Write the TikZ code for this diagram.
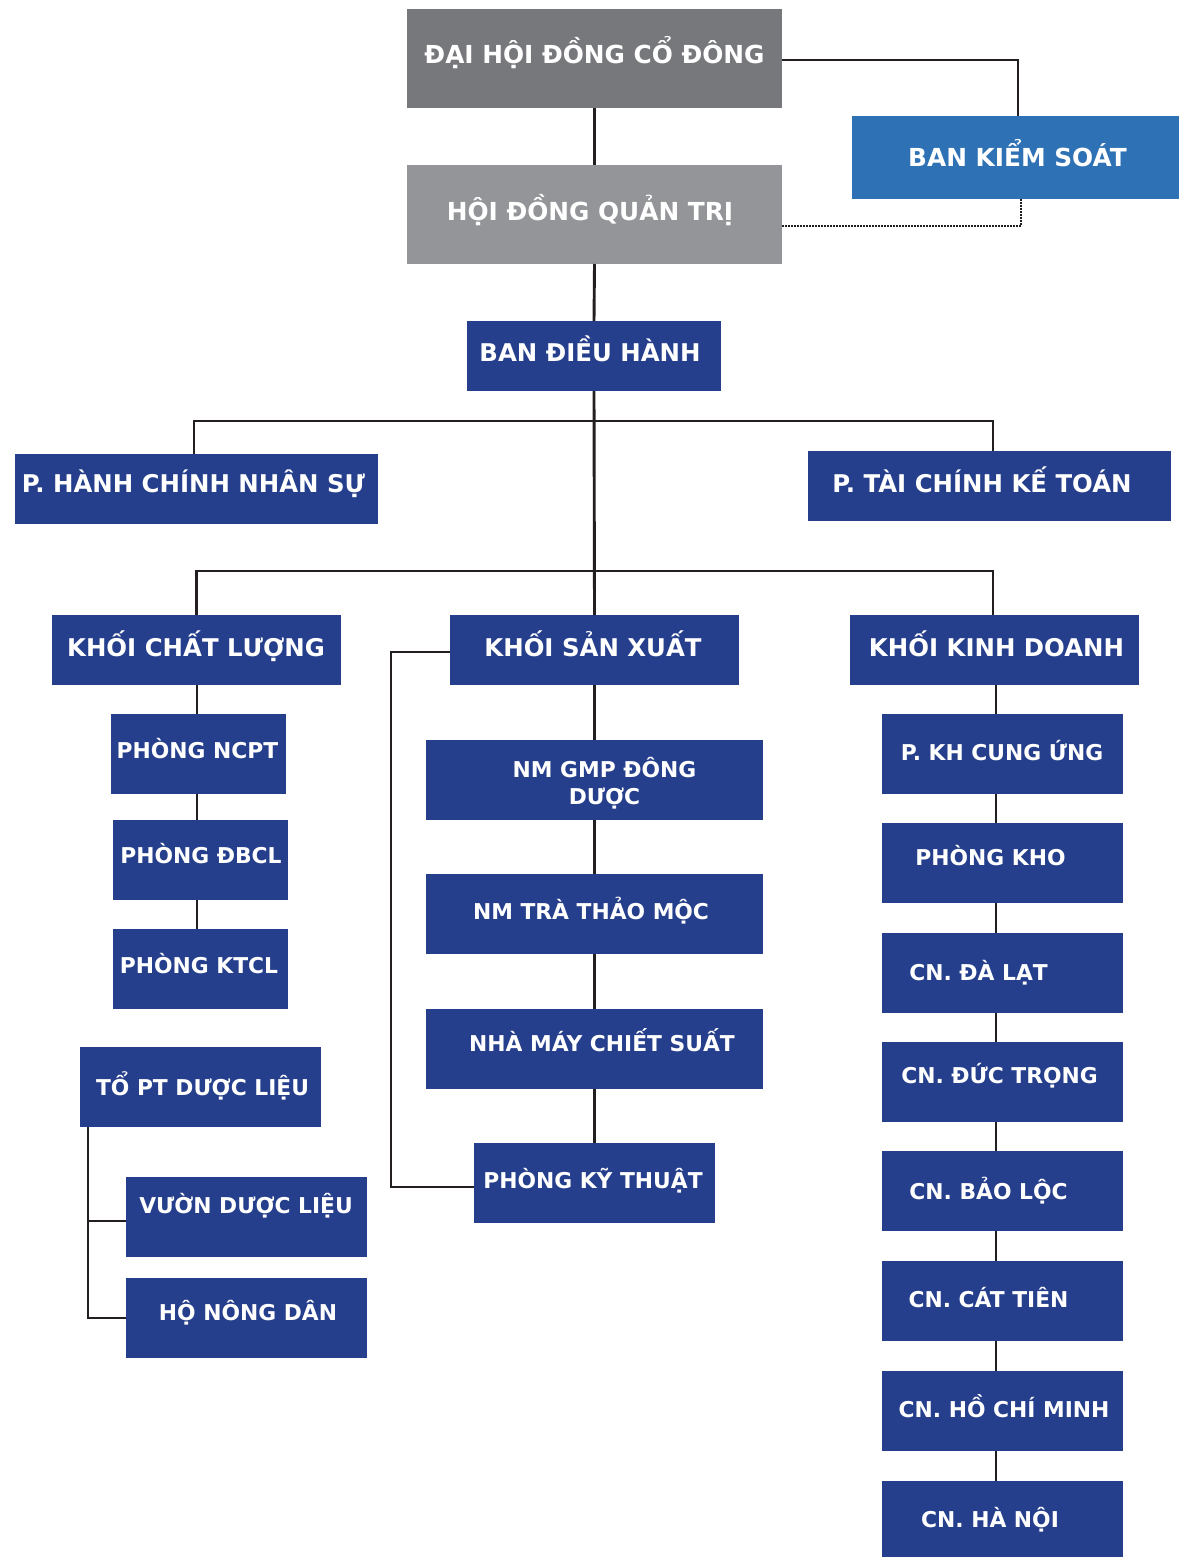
\documentclass[tikz,border=0pt]{standalone}
\usepackage{fontspec}
\setmainfont{DejaVu Sans}
\definecolor{gdark}{HTML}{77787C}
\definecolor{glight}{HTML}{939598}
\definecolor{bksblue}{HTML}{2E72B5}
\definecolor{navy}{HTML}{263F8C}
\definecolor{wirecol}{HTML}{231F20}
\newcommand\topsz{\fontsize{24.8}{29}\selectfont}
\newcommand\mainsz{\fontsize{24.4}{28}\selectfont}
\newcommand\subsz{\fontsize{21.8}{27}\selectfont}
\tikzset{
  unit/.style={rectangle, inner sep=0pt, outer sep=0pt, draw=none},
  lbl/.style={inner sep=0pt, text=white, font=\bfseries},
  wire/.style={draw=wirecol, line width=2.9pt},
  dotwire/.style={draw=wirecol, line width=2pt, dash pattern=on 1.6pt off 1.4pt},
}
% name x1 y1 x2 y2 fill tx ty text
\newcommand\orgunit[9]{%
  \node[unit, fill=#6, minimum width={(#4-#2)*1pt}, minimum height={(#5-#3)*1pt}] (#1) at ({(#2+#4)/2},{(#3+#5)/2}) {};
  \node[lbl, anchor=base] (#1-t) at (#7,#8) {#9};
}
\begin{document}
\begin{tikzpicture}[x=1pt,y=-1pt]
\useasboundingbox[fill=white] (0,0) rectangle (1179,1557);
% top
\orgunit{dhdcd}{407}{9}{782}{108}{gdark}{594.5}{64}{\topsz ĐẠI HỘI ĐỒNG CỔ ĐÔNG}
\orgunit{bks}{852}{116}{1179}{199}{bksblue}{1017.5}{167}{\topsz BAN KIỂM SOÁT}
\orgunit{hdqt}{407}{165}{782}{264}{glight}{590}{220}{\topsz HỘI ĐỒNG QUẢN TRỊ}
\orgunit{bdh}{467}{321}{721}{391}{navy}{590}{361}{\mainsz BAN ĐIỀU HÀNH}
\orgunit{phcns}{15}{454}{378}{524}{navy}{193.5}{492}{\mainsz P. HÀNH CHÍNH NHÂN SỰ}
\orgunit{ptckt}{808}{451}{1171}{521}{navy}{982}{492}{\mainsz P. TÀI CHÍNH KẾ TOÁN}
\orgunit{kcl}{52}{615}{341}{685}{navy}{196}{656}{\mainsz KHỐI CHẤT LƯỢNG}
\orgunit{ksx}{450}{615}{739}{685}{navy}{593}{656}{\mainsz KHỐI SẢN XUẤT}
\orgunit{kkd}{850}{615}{1139}{685}{navy}{996.5}{656}{\mainsz KHỐI KINH DOANH}
% left column
\orgunit{ncpt}{111}{714}{286}{794}{navy}{197.5}{758}{\subsz PHÒNG NCPT}
\orgunit{dbcl}{113}{820}{288}{900}{navy}{201}{863}{\subsz PHÒNG ĐBCL}
\orgunit{ktcl}{113}{929}{288}{1009}{navy}{199}{973}{\subsz PHÒNG KTCL}
\orgunit{topt}{80}{1047}{321}{1127}{navy}{202.5}{1095}{\subsz TỔ PT DƯỢC LIỆU}
\orgunit{vdl}{126}{1177}{367}{1257}{navy}{246}{1213}{\subsz VƯỜN DƯỢC LIỆU}
\orgunit{hnd}{126}{1278}{367}{1358}{navy}{248}{1320}{\subsz HỘ NÔNG DÂN}
% middle column
\node[unit, fill=navy, minimum width=337pt, minimum height=80pt] (gmp) at (594.5,780) {};
\node[lbl, align=center, font=\bfseries\subsz] (gmp-t) at (604.5,783) {NM GMP ĐÔNG\\DƯỢC};
\orgunit{tra}{426}{874}{763}{954}{navy}{591}{919}{\subsz NM TRÀ THẢO MỘC}
\orgunit{nmcs}{426}{1009}{763}{1089}{navy}{602}{1051}{\subsz NHÀ MÁY CHIẾT SUẤT}
\orgunit{pkt}{474}{1143}{715}{1223}{navy}{593}{1188}{\subsz PHÒNG KỸ THUẬT}
% right column
\orgunit{khcu}{882}{714}{1123}{794}{navy}{1002}{760}{\subsz P. KH CUNG ỨNG}
\orgunit{kho}{882}{823}{1123}{903}{navy}{990.5}{865}{\subsz PHÒNG KHO}
\orgunit{dalat}{882}{933}{1123}{1013}{navy}{978.5}{980}{\subsz CN. ĐÀ LẠT}
\orgunit{ductrong}{882}{1042}{1123}{1122}{navy}{999.5}{1083}{\subsz CN. ĐỨC TRỌNG}
\orgunit{baoloc}{882}{1151}{1123}{1231}{navy}{988.5}{1199}{\subsz CN. BẢO LỘC}
\orgunit{cattien}{882}{1261}{1123}{1341}{navy}{988.5}{1307}{\subsz CN. CÁT TIÊN}
\orgunit{hcm}{882}{1371}{1123}{1451}{navy}{1004}{1417}{\subsz CN. HỒ CHÍ MINH}
\orgunit{hanoi}{882}{1481}{1123}{1557}{navy}{990}{1527}{\subsz CN. HÀ NỘI}
% connectors
\coordinate (j1) at (596,421);
\coordinate (j2) at (596,571);
\coordinate (lx) at (197,0);
\coordinate (rx) at (996,0);
\coordinate (tl) at ([xshift=8pt]topt.south west);
\draw[wire] ([yshift=-1.5pt]dhdcd.east) -| ([xshift=2.5pt]bks.north);
\draw[dotwire] ([yshift=-11.5pt]hdqt.east) -| ([xshift=5.5pt]bks.south);
\draw[wire] (dhdcd.south) -- (hdqt.north);
\draw[wire] (hdqt.south) -- (bdh.north);
\draw[wire] (bdh.south) -- (ksx.north);
\draw[wire] ([xshift=-2.5pt]phcns.north) |- (j1) -| ([xshift=3.5pt]ptckt.north);
\draw[wire] (kcl.north) |- (j2) -| ([xshift=-1.5pt]kkd.north);
\draw[wire] ([yshift=-2pt]ksx.west) -- ++(-59,0) |- ([yshift=-4pt]pkt.west);
\draw[wire] (ksx.south) -- (gmp.north);
\draw[wire] (gmp.south) -- (tra.north);
\draw[wire] (tra.south) -- (nmcs.north);
\draw[wire] (nmcs.south) -- (pkt.north);
\draw[wire] (kcl.south -| lx) -- (ncpt.north -| lx);
\draw[wire] (ncpt.south -| lx) -- (dbcl.north -| lx);
\draw[wire] (dbcl.south -| lx) -- (ktcl.north -| lx);
\draw[wire] (tl) |- (hnd.west);
\draw[wire] ([yshift=-4pt]tl |- vdl.west) -- ([yshift=-4pt]vdl.west);
\draw[wire] (kkd.south -| rx) -- (khcu.north -| rx);
\draw[wire] (khcu.south -| rx) -- (kho.north -| rx);
\draw[wire] (kho.south -| rx) -- (dalat.north -| rx);
\draw[wire] (dalat.south -| rx) -- (ductrong.north -| rx);
\draw[wire] (ductrong.south -| rx) -- (baoloc.north -| rx);
\draw[wire] (baoloc.south -| rx) -- (cattien.north -| rx);
\draw[wire] (cattien.south -| rx) -- (hcm.north -| rx);
\draw[wire] (hcm.south -| rx) -- (hanoi.north -| rx);
\end{tikzpicture}
\end{document}
